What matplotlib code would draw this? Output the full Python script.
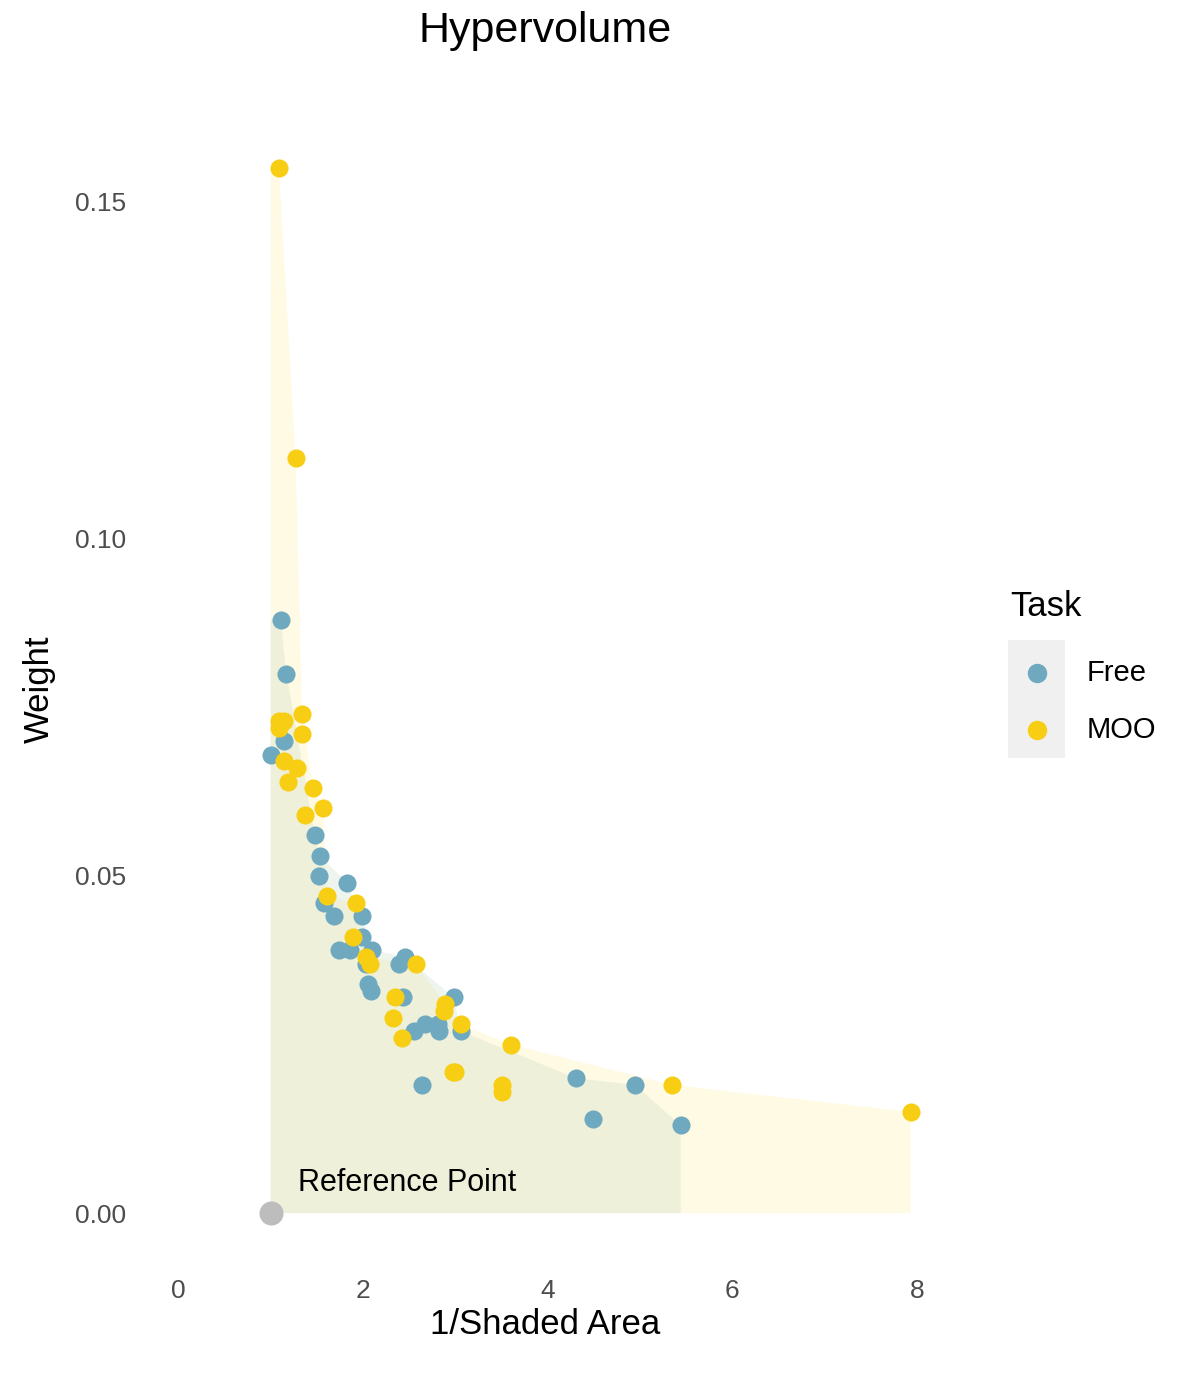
import matplotlib.pyplot as plt
from matplotlib.patches import Rectangle
from matplotlib.lines import Line2D

plt.rcParams["font.family"] = "Liberation Sans"

# MOO points (1/Shaded Area, Weight)
moo_x = [1.09, 1.27, 1.09, 1.14, 1.09, 1.34, 1.34, 1.15, 1.29, 1.19, 1.46, 1.57, 1.37,
         1.61, 1.92, 1.89, 2.03, 2.08, 2.57, 2.35, 2.33, 2.42, 2.89, 2.88, 3.06, 3.60,
         3.00, 2.97, 3.51, 3.51, 5.35, 7.93]
moo_y = [0.155, 0.112, 0.073, 0.073, 0.072, 0.074, 0.071, 0.067, 0.066, 0.064, 0.063, 0.060, 0.059,
         0.047, 0.046, 0.041, 0.038, 0.037, 0.037, 0.032, 0.029, 0.026, 0.031, 0.030, 0.028, 0.025,
         0.021, 0.021, 0.019, 0.018, 0.019, 0.015]

free_x = [1.11, 1.17, 1.00, 1.15, 1.48, 1.53, 1.52, 1.83, 1.58, 1.69, 1.99, 1.74, 1.86, 1.99,
          2.10, 2.03, 2.46, 2.39, 2.05, 2.09, 2.43, 2.98, 2.55, 2.67, 2.81, 2.82, 3.06, 2.64,
          4.31, 4.95, 4.49, 5.44]
free_y = [0.088, 0.080, 0.068, 0.070, 0.056, 0.053, 0.050, 0.049, 0.046, 0.044, 0.044, 0.039, 0.039, 0.041,
          0.039, 0.037, 0.038, 0.037, 0.034, 0.033, 0.032, 0.032, 0.027, 0.028, 0.028, 0.027, 0.027, 0.019,
          0.020, 0.019, 0.014, 0.013]

ref_point = (1.0, 0.0)

BLUE = "#6FA9C0"
YELLOW = "#F7CE14"


def pareto_front(xs, ys):
    pts = sorted(zip(xs, ys), key=lambda p: (-p[0], -p[1]))
    front, best_y = [], -1
    for x, y in pts:
        if y > best_y:
            front.append((x, y))
            best_y = y
    return sorted(front)


def hv_polygon(xs, ys):
    front = pareto_front(xs, ys)
    px = [ref_point[0], ref_point[0]] + [p[0] for p in front] + [front[-1][0]]
    py = [ref_point[1], front[0][1]] + [p[1] for p in front] + [ref_point[1]]
    return px, py


fig = plt.figure(figsize=(12, 13.77), dpi=100)
ax = fig.add_axes([0.117, 0.0813, 0.675, 0.836])

px, py = hv_polygon(moo_x, moo_y)
ax.fill(px, py, color="#FFF3B0", alpha=0.35, lw=0)
px, py = hv_polygon(free_x, free_y)
ax.fill(px, py, color="#C9DCC8", alpha=0.3, lw=0)

ax.scatter(free_x, free_y, s=170, color=BLUE, lw=0, zorder=3)
ax.scatter(moo_x, moo_y, s=170, color=YELLOW, lw=0, zorder=3)
ax.scatter([ref_point[0]], [ref_point[1]], s=300, color="#BDBDBD", lw=0, zorder=3)
ax.text(1.3, 0.0045, "Reference Point", fontsize=22, ha="left", va="center")

ax.set_xlim(-0.41, 8.36)
ax.set_ylim(-0.0077, 0.163)
ax.set_xticks([0, 2, 4, 6, 8])
ax.set_yticks([0.0, 0.05, 0.10, 0.15])
ax.set_yticklabels(["0.00", "0.05", "0.10", "0.15"])
ax.tick_params(length=0, labelsize=19, labelcolor="#4D4D4D", pad=10)
for s in ax.spines.values():
    s.set_visible(False)
ax.set_xlabel("1/Shaded Area", fontsize=25, labelpad=4)
ax.set_ylabel("Weight", fontsize=25, labelpad=14)
ax.set_title("Hypervolume", fontsize=31, pad=52)

# legend drawn by hand to mimic ggplot key background
fig.text(1010 / 1200, 1 - 607 / 1377, "Task", fontsize=25, va="center")
fig.add_artist(Rectangle((1008 / 1200, 1 - 758 / 1377), 57 / 1200, 118 / 1377,
                         transform=fig.transFigure, color="#F0F0F0", lw=0))
for label, color, ypx in [("Free", BLUE, 673), ("MOO", YELLOW, 730)]:
    fig.add_artist(Line2D([1037 / 1200], [1 - ypx / 1377], marker="o", markersize=13,
                          color=color, lw=0, transform=fig.transFigure))
    fig.text(1087 / 1200, 1 - ypx / 1377, label, fontsize=21, va="center")

fig.savefig("out.png")
